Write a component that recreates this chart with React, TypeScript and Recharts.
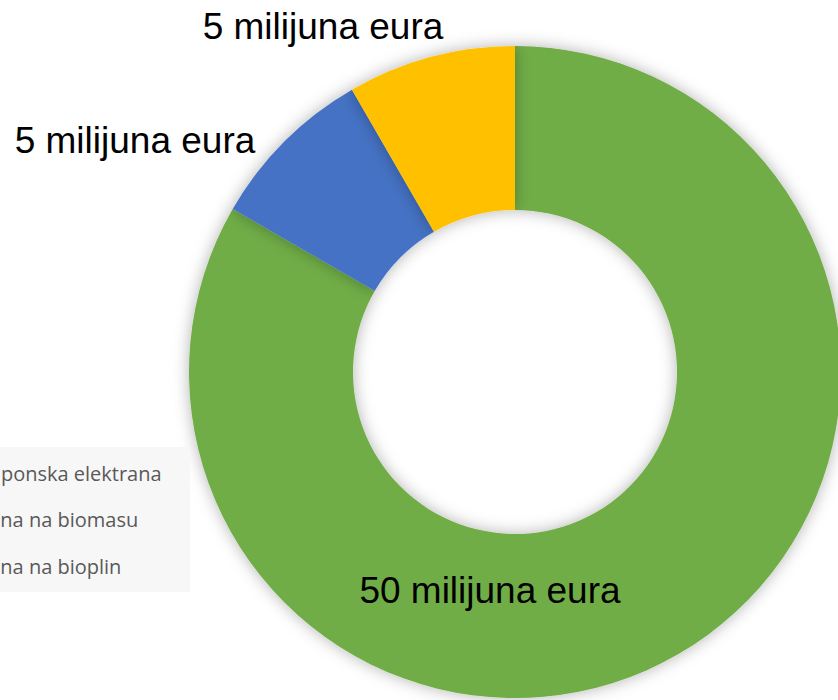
import { PieChart, Pie, Cell, Legend } from "recharts"

const names = ["Fotonaponska elektrana", "Elektrana na biomasu", "Elektrana na bioplin"]
const values = [50, 5, 5]
const valueLabels = ["50 milijuna eura", "5 milijuna eura", "5 milijuna eura"]
const colors = ["#70AD47", "#4472C4", "#FFC000"]

const data = names.map((name, i) => ({ name, value: values[i] }))

// hand-placed label baselines, relative to the donut centre
const labelOffsets = [
  { dx: -25, dy: 231 },
  { dx: -380, dy: -219 },
  { dx: -192, dy: -333 },
]

const renderLabel = (props: any) => {
  const { cx, cy, index } = props
  const o = labelOffsets[index]
  return (
    <text
      x={cx + o.dx}
      y={cy + o.dy}
      textAnchor="middle"
      fill="#000"
      fontSize={37}
      fontFamily="'Liberation Sans', Arial, sans-serif"
    >
      {valueLabels[index]}
    </text>
  )
}

const renderLegend = () => (
  <div
    style={{
      background: "#f7f7f7",
      width: 284,
      height: 145,
      paddingTop: 3,
      boxSizing: "border-box",
      fontFamily: "'Open Sans', sans-serif",
      fontSize: 20,
      color: "#595959",
    }}
  >
    {names.map((n, i) => (
      <div key={n} style={{ display: "flex", alignItems: "center", height: 46.5, whiteSpace: "nowrap" }}>
        <span
          style={{ width: 12, height: 12, background: colors[i], marginLeft: 10, marginRight: 8 }}
        />
        <span>{n}</span>
      </div>
    ))}
  </div>
)

export default function App() {
  return (
    <div style={{ position: "fixed", left: 0, top: 0, width: 838, height: 700, overflow: "hidden", background: "#fff" }}>
      <PieChart width={838} height={700} margin={{ top: 0, right: 0, bottom: 0, left: 0 }}>
        <defs>
          <filter id="shade" x="-20%" y="-20%" width="140%" height="140%">
            <feDropShadow dx="0" dy="0" stdDeviation="8" floodColor="#000" floodOpacity="0.3" />
          </filter>
        </defs>
        <Legend
          content={renderLegend}
          layout="vertical"
          wrapperStyle={{ left: -94, top: 447, width: 284 }}
        />
        <Pie
          data={data}
          dataKey="value"
          cx={515}
          cy={372}
          innerRadius={162}
          outerRadius={326}
          startAngle={90}
          endAngle={-270}
          stroke="none"
          label={renderLabel}
          labelLine={false}
          isAnimationActive={false}
          style={{ filter: "url(#shade)" }}
        >
          {data.map((d, i) => (
            <Cell key={d.name} fill={colors[i]} />
          ))}
        </Pie>
      </PieChart>
    </div>
  )
}
